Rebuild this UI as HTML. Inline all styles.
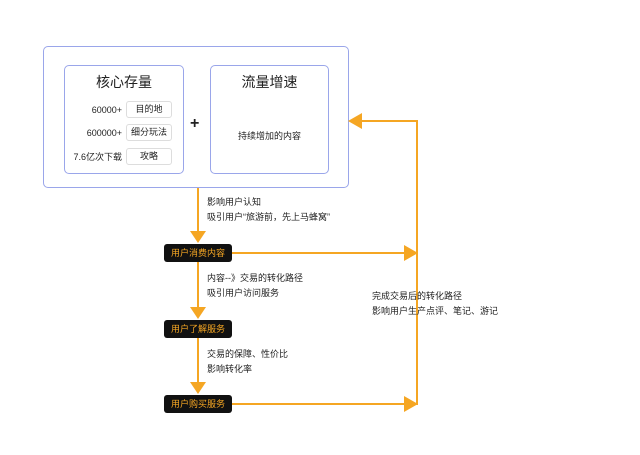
<!DOCTYPE html>
<html><head><meta charset="utf-8"><style>
body{margin:0;width:640px;height:455px;background:#fff;position:relative;font-family:"Liberation Sans","Noto Sans CJK SC",sans-serif;overflow:hidden}
.a{position:absolute}
.box{position:absolute;border:1px solid #9aa6ea;border-radius:5px;background:#fff;box-sizing:border-box}
.t{position:absolute;font-size:9px;color:#222;white-space:nowrap;line-height:12px}
.pill{position:absolute;border:1px solid #ddd;border-radius:3px;font-size:9px;text-align:center;line-height:15px;height:17px;box-sizing:border-box;width:46px;left:126px;color:#222}
.node{position:absolute;background:#111;color:#f5a623;font-size:9px;border-radius:3px;width:68px;height:18px;line-height:18px;text-align:center;left:164px}
</style></head><body>
<div class="box" style="left:43px;top:46px;width:306px;height:142px"></div>
<div class="box" style="left:64px;top:65px;width:120px;height:109px"></div>
<div class="box" style="left:210px;top:65px;width:119px;height:109px"></div>
<div class="t" style="left:64px;width:120px;text-align:center;top:74px;font-size:14px;line-height:16px">核心存量</div>
<div class="t" style="left:210px;width:119px;text-align:center;top:74px;font-size:14px;line-height:16px">流量增速</div>
<div class="t" style="left:210px;width:119px;text-align:center;top:130px">持续增加的内容</div>
<div class="t" style="left:74px;width:48px;text-align:right;top:104px">60000+</div>
<div class="t" style="left:74px;width:48px;text-align:right;top:127px">600000+</div>
<div class="t" style="left:70px;width:52px;text-align:right;top:151px">7.6亿次下载</div>
<div class="pill" style="top:101px">目的地</div>
<div class="pill" style="top:124px">细分玩法</div>
<div class="pill" style="top:148px">攻略</div>
<div class="t" style="left:190px;top:116px;font-size:16px;font-weight:bold;line-height:16px">+</div>
<svg class="a" style="left:0;top:0" width="640" height="455">
<g stroke="#f5a623" stroke-width="2" fill="none">
<path d="M198 188V232M198 262V308M198 338V383M232 253H405M232 404H405M417 405V121H360"/>
</g>
<g fill="#f5a623">
<path d="M190 231H206L198 243Z"/><path d="M190 307H206L198 319Z"/><path d="M190 382H206L198 394Z"/>
<path d="M404 245V261L418 253Z"/><path d="M404 396V412L418 404Z"/><path d="M362 113V129L348 121Z"/>
</g></svg>
<div class="node" style="top:244px">用户消费内容</div>
<div class="node" style="top:320px">用户了解服务</div>
<div class="node" style="top:395px">用户购买服务</div>
<div class="t" style="left:207px;top:196px">影响用户认知</div>
<div class="t" style="left:207px;top:211px">吸引用户“旅游前，先上马蜂窝”</div>
<div class="t" style="left:207px;top:272px">内容--》交易的转化路径</div>
<div class="t" style="left:207px;top:287px">吸引用户访问服务</div>
<div class="t" style="left:207px;top:348px">交易的保障、性价比</div>
<div class="t" style="left:207px;top:363px">影响转化率</div>
<div class="t" style="left:372px;top:290px">完成交易后的转化路径</div>
<div class="t" style="left:372px;top:305px">影响用户生产点评、笔记、游记</div>
</body></html>
